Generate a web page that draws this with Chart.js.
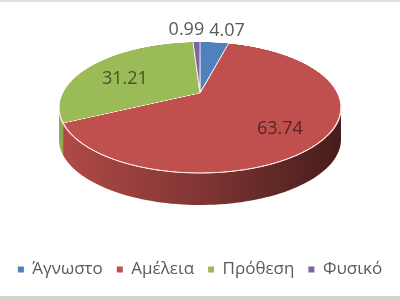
<!DOCTYPE html>
<html>
<head>
<meta charset="utf-8">
<script src="https://cdn.jsdelivr.net/npm/chart.js@4.4.0/dist/chart.umd.min.js"></script>
<style>
html, body { margin: 0; padding: 0; background: #fff; }
#wrap { width: 400px; height: 300px; }
</style>
</head>
<body>
<div id="wrap"><canvas id="pieChart"></canvas></div>
<script>
const categories = ['Άγνωστο', 'Αμέλεια', 'Πρόθεση', 'Φυσικό'];
const values = [4.07, 63.74, 31.21, 0.99];

// how the flat pie is tilted on screen (Excel style 3D pie)
const view = { cx: 200, top: 42, apex: 93, bottom: 173, halfWidth: 141, depth: 32 };

function makeProjection(v) {
    // y = (a*s + b) / (c*s + 1), s goes -1 (back) .. 1 (front)
    const b = v.apex;
    const c = (v.bottom + v.top - 2 * b) / (v.top - v.bottom);
    const a = v.bottom - b + v.bottom * c;
    const w0 = v.halfWidth * Math.sqrt(1 - c * c);
    return {
        a, b, c, w0,
        project(u, s) {
            const d = 1 + c * s;
            return { x: v.cx + w0 * u / d, y: (a * s + b) / d };
        },
        inv(y) {
            return (b - y) / (c * y - a);
        }
    };
}

function shade(hex, f) {
    const n = parseInt(hex.slice(1), 16);
    const r = Math.round(((n >> 16) & 255) * f);
    const g = Math.round(((n >> 8) & 255) * f);
    const bl = Math.round((n & 255) * f);
    return `rgb(${r},${g},${bl})`;
}

const pie3d = {
    id: 'pie3d',
    beforeDraw(chart) {
        const ctx = chart.ctx;
        ctx.save();
        ctx.fillStyle = '#fff';
        ctx.fillRect(0, 0, chart.width, chart.height);
        ctx.fillStyle = '#e2e2e2';
        ctx.fillRect(0, 0, chart.width, 2);
        ctx.fillStyle = '#d3d3d3';
        ctx.fillRect(0, chart.height - 4, chart.width, 4);
        ctx.restore();
    },
    beforeDatasetsDraw(chart) {
        const ctx = chart.ctx;
        const arcs = chart.getDatasetMeta(0).data;
        if (!arcs.length) return;
        const P = makeProjection(view);
        const colors = chart.data.datasets[0].backgroundColor;

        // side wall
        const thR = Math.asin(-P.c), thL = Math.PI - thR;
        const xl = P.project(Math.cos(thL), Math.sin(thL)).x;
        const xr = P.project(Math.cos(thR), Math.sin(thR)).x;
        ctx.save();
        arcs.forEach((arc, i) => {
            const a1 = Math.max(arc.startAngle, thR);
            const a2 = Math.min(arc.endAngle, thL);
            if (a2 <= a1) return;
            const g = ctx.createLinearGradient(xl, 0, xr, 0);
            g.addColorStop(0, shade(colors[i], 0.92));
            g.addColorStop(0.45, shade(colors[i], 0.7));
            g.addColorStop(0.9, shade(colors[i], 0.42));
            g.addColorStop(1, shade(colors[i], 0.36));
            const n = 80;
            ctx.beginPath();
            for (let k = 0; k <= n; k++) {
                const t = a1 + (a2 - a1) * k / n;
                const p = P.project(Math.cos(t), Math.sin(t));
                if (k === 0) ctx.moveTo(p.x, p.y); else ctx.lineTo(p.x, p.y);
            }
            for (let k = n; k >= 0; k--) {
                const t = a1 + (a2 - a1) * k / n;
                const p = P.project(Math.cos(t), Math.sin(t));
                ctx.lineTo(p.x, p.y + view.depth);
            }
            ctx.closePath();
            ctx.fillStyle = g;
            ctx.fill();
        });

        // top face: flat arcs drawn off screen, then laid down row by row
        const k = 2;
        const off = document.createElement('canvas');
        off.width = chart.width * k;
        off.height = chart.height * k;
        const octx = off.getContext('2d');
        octx.scale(k, k);
        arcs.forEach(a => a.draw(octx));
        const ox = arcs[0].x, oy = arcs[0].y, R = arcs[0].outerRadius;
        for (let y = Math.floor(view.top) - 1; y < Math.ceil(view.bottom) + 1; y++) {
            let s0 = P.inv(y), s1 = P.inv(y + 1);
            const sm = P.inv(y + 0.5);
            if (s1 < -1 || s0 > 1) continue;
            s0 = Math.max(s0, -1.02); s1 = Math.min(s1, 1.02);
            const d = 1 + P.c * Math.max(-1, Math.min(1, sm));
            const hw = P.w0 / d;
            const sy = (oy + s0 * R) * k;
            const sh = Math.max((s1 - s0) * R * k, 0.5);
            ctx.drawImage(off, (ox - R) * k, sy, 2 * R * k, sh, view.cx - hw, y, 2 * hw, 1);
        }

        // light rim along the front edge
        ctx.beginPath();
        for (let j = 0; j <= 120; j++) {
            const t = thR + (thL - thR) * j / 120;
            const p = P.project(Math.cos(t), Math.sin(t));
            if (j === 0) ctx.moveTo(p.x, p.y); else ctx.lineTo(p.x, p.y);
        }
        ctx.strokeStyle = 'rgba(255,225,225,0.9)';
        ctx.lineWidth = 1;
        ctx.stroke();
        ctx.restore();
        return false;
    },
    afterDraw(chart) {
        const ctx = chart.ctx;
        const arcs = chart.getDatasetMeta(0).data;
        if (!arcs.length) return;
        const P = makeProjection(view);
        const colors = chart.data.datasets[0].backgroundColor;
        const total = values.reduce((s, v) => s + v, 0);
        ctx.save();
        ctx.font = '18px "Open Sans"';
        ctx.textBaseline = 'middle';
        ctx.textAlign = 'center';
        const items = arcs.map((arc, i) => {
            const mid = (arc.startAngle + arc.endAngle) / 2;
            const inside = values[i] / total >= 0.1;
            const r = inside ? 0.68 : 1.3;
            const p = P.project(r * Math.cos(mid), r * Math.sin(mid));
            const text = values[i].toFixed(2);
            return {
                text, x: p.x, y: inside ? p.y + 6 : p.y, inside,
                w: ctx.measureText(text).width,
                color: inside ? shade(colors[i], 0.45) : '#595959'
            };
        });
        // keep outside labels from overlapping
        const outs = items.filter(it => !it.inside).sort((p, q) => p.x - q.x);
        for (let i = 1; i < outs.length; i++) {
            const gap = (outs[i].x - outs[i].w / 2) - (outs[i - 1].x + outs[i - 1].w / 2);
            if (gap < 5) {
                const push = (5 - gap) / 2;
                outs[i].x += push;
                outs[i - 1].x -= push;
            }
        }
        items.forEach(it => {
            ctx.fillStyle = it.color;
            ctx.fillText(it.text, it.x, it.y);
        });
        ctx.restore();
    }
};

document.addEventListener('DOMContentLoaded', () => {
    const baseLabels = Chart.overrides.doughnut.plugins.legend.labels.generateLabels;
    new Chart(document.getElementById('pieChart'), {
        type: 'pie',
        data: {
            labels: categories,
            datasets: [{
                data: values,
                backgroundColor: ['#4F81BD', '#C0504D', '#9BBB59', '#8064A2'],
                borderColor: 'rgba(255,240,240,0.95)',
                borderWidth: 1
            }]
        },
        options: {
            responsive: true,
            maintainAspectRatio: false,
            animation: false,
            layout: { padding: { top: 10, bottom: 12, left: 0, right: 0 } },
            plugins: {
                tooltip: { enabled: false },
                legend: {
                    position: 'bottom',
                    labels: {
                        boxWidth: 6,
                        boxHeight: 6,
                        padding: 14,
                        color: '#595959',
                        font: { family: 'Open Sans', size: 17 },
                        generateLabels: chart => baseLabels(chart).map(l => ({ ...l, lineWidth: 0 }))
                    }
                }
            }
        },
        plugins: [pie3d]
    });
});
</script>
</body>
</html>
